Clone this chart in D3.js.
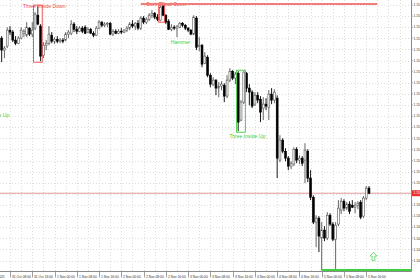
<!DOCTYPE html>
<html><head><meta charset="utf-8">
<script src="https://cdn.jsdelivr.net/npm/d3@7/dist/d3.min.js"></script>
<style>html,body{margin:0;padding:0;background:#fff;overflow:hidden}svg{display:block}</style>
</head><body><svg id="c" width="420" height="280"></svg>
<script>
// ---- DATA (hourly OHLC) ----
const openP=[1.15701,1.15647,1.15665,1.15737,1.15728,1.15692,1.15678,1.15701,1.15723,1.15714,
1.15746,1.15719,1.15746,1.15804,1.15755,1.15624,1.15669,1.15678,1.15714,1.15687,
1.15696,1.15687,1.15692,1.15692,1.15719,1.15723,1.15764,1.15741,1.15732,1.15746,
1.15750,1.15728,1.15741,1.15723,1.15714,1.15746,1.15773,1.15759,1.15764,1.15768,
1.15719,1.15732,1.15723,1.15732,1.15728,1.15737,1.15746,1.15764,1.15755,1.15768,
1.15746,1.15791,1.15773,1.15786,1.15804,1.15813,1.15795,1.15782,1.15845,1.15804,
1.15777,1.15741,1.15750,1.15746,1.15750,1.15768,1.15759,1.15746,1.15737,1.15719,
1.15791,1.15665,1.15669,1.15588,1.15615,1.15534,1.15494,1.15512,1.15476,1.15485,
1.15489,1.15440,1.15512,1.15552,1.15521,1.15543,1.15332,1.15413,1.15543,1.15476,
1.15458,1.15404,1.15444,1.15426,1.15386,1.15404,1.15390,1.15449,1.15422,1.15431,
1.15152,1.15242,1.15192,1.15161,1.15125,1.15134,1.15201,1.15152,1.15161,1.15152,
1.15192,1.15071,1.14985,1.14873,1.14891,1.14801,1.14837,1.14801,1.14904,1.14864,
1.14796,1.14864,1.14927,1.14967,1.14936,1.14954,1.14949,1.14940,1.14949,1.14963,
1.14900,1.14981,1.15026];
const highP=[1.15710,1.15665,1.15750,1.15755,1.15737,1.15710,1.15710,1.15750,1.15741,1.15773,
1.15750,1.15773,1.15818,1.15845,1.15764,1.15683,1.15692,1.15755,1.15728,1.15705,
1.15710,1.15701,1.15701,1.15728,1.15737,1.15782,1.15773,1.15755,1.15755,1.15755,
1.15759,1.15750,1.15746,1.15732,1.15755,1.15782,1.15777,1.15773,1.15773,1.15773,
1.15741,1.15741,1.15741,1.15746,1.15741,1.15755,1.15773,1.15782,1.15773,1.15782,
1.15800,1.15800,1.15795,1.15813,1.15827,1.15818,1.15809,1.15849,1.15854,1.15809,
1.15786,1.15764,1.15759,1.15759,1.15773,1.15773,1.15764,1.15750,1.15741,1.15804,
1.15800,1.15705,1.15674,1.15638,1.15624,1.15543,1.15525,1.15516,1.15503,1.15507,
1.15498,1.15534,1.15566,1.15557,1.15548,1.15552,1.15422,1.15552,1.15548,1.15494,
1.15467,1.15458,1.15458,1.15440,1.15435,1.15431,1.15467,1.15476,1.15471,1.15444,
1.15264,1.15251,1.15206,1.15170,1.15147,1.15210,1.15210,1.15174,1.15170,1.15228,
1.15201,1.15107,1.14994,1.14904,1.14900,1.14873,1.14855,1.14918,1.14913,1.14873,
1.14873,1.14972,1.14981,1.14976,1.14963,1.14967,1.14972,1.14963,1.14967,1.14972,
1.14990,1.15035,1.15035];
const lowP=[1.15593,1.15611,1.15656,1.15714,1.15683,1.15669,1.15674,1.15696,1.15705,1.15705,
1.15710,1.15705,1.15737,1.15759,1.15597,1.15611,1.15647,1.15669,1.15678,1.15674,
1.15678,1.15678,1.15678,1.15687,1.15701,1.15714,1.15728,1.15719,1.15728,1.15723,
1.15719,1.15723,1.15719,1.15705,1.15710,1.15741,1.15750,1.15750,1.15750,1.15714,
1.15710,1.15719,1.15719,1.15719,1.15723,1.15728,1.15737,1.15746,1.15737,1.15737,
1.15737,1.15764,1.15764,1.15777,1.15791,1.15786,1.15777,1.15777,1.15800,1.15764,
1.15737,1.15732,1.15737,1.15705,1.15746,1.15750,1.15737,1.15728,1.15714,1.15714,
1.15647,1.15642,1.15570,1.15584,1.15525,1.15480,1.15485,1.15444,1.15435,1.15467,
1.15413,1.15431,1.15503,1.15512,1.15494,1.15282,1.15327,1.15404,1.15458,1.15399,
1.15386,1.15395,1.15408,1.15323,1.15332,1.15377,1.15332,1.15404,1.15408,1.15071,
1.15143,1.15183,1.15147,1.15107,1.15111,1.15125,1.15138,1.15134,1.15125,1.15048,
1.15053,1.14972,1.14864,1.14760,1.14738,1.14657,1.14787,1.14792,1.14855,1.14787,
1.14657,1.14855,1.14909,1.14922,1.14927,1.14909,1.14936,1.14913,1.14931,1.14886,
1.14891,1.14972,1.14999];
const closeP=[1.15647,1.15656,1.15737,1.15728,1.15692,1.15678,1.15701,1.15737,1.15732,1.15750,
1.15719,1.15737,1.15809,1.15764,1.15620,1.15669,1.15678,1.15719,1.15687,1.15696,
1.15687,1.15692,1.15687,1.15719,1.15728,1.15764,1.15741,1.15732,1.15746,1.15732,
1.15723,1.15741,1.15723,1.15714,1.15746,1.15773,1.15759,1.15764,1.15768,1.15719,
1.15732,1.15723,1.15732,1.15728,1.15737,1.15746,1.15764,1.15755,1.15768,1.15746,
1.15791,1.15773,1.15786,1.15804,1.15813,1.15795,1.15786,1.15840,1.15804,1.15773,
1.15741,1.15750,1.15746,1.15755,1.15768,1.15759,1.15746,1.15737,1.15719,1.15795,
1.15660,1.15669,1.15584,1.15620,1.15534,1.15494,1.15512,1.15476,1.15485,1.15494,
1.15440,1.15512,1.15552,1.15521,1.15539,1.15323,1.15413,1.15548,1.15476,1.15458,
1.15395,1.15444,1.15422,1.15368,1.15404,1.15395,1.15449,1.15422,1.15458,1.15161,
1.15242,1.15192,1.15161,1.15125,1.15138,1.15201,1.15152,1.15161,1.15138,1.15197,
1.15071,1.14985,1.14873,1.14891,1.14810,1.14837,1.14801,1.14904,1.14864,1.14796,
1.14859,1.14936,1.14967,1.14936,1.14954,1.14922,1.14940,1.14949,1.14958,1.14895,
1.14981,1.15026,1.15003];

const firstDateLabel = "31 Oct 2025";
const timeLabels = ["31 Oct 08:00","31 Oct 16:00","1 Nov 00:00","1 Nov 08:00","1 Nov 16:00",
"2 Nov 00:00","2 Nov 08:00","2 Nov 16:00","3 Nov 00:00","3 Nov 08:00","3 Nov 16:00",
"4 Nov 00:00","4 Nov 08:00","4 Nov 16:00","5 Nov 00:00","5 Nov 08:00","5 Nov 16:00"];
const timeLabelBars = [3,11,19,27,35,43,51,59,67,75,83,91,99,107,115,123,131];

const priceTicks = [1.1585,1.1580,1.1575,1.1570,1.1565,1.1560,1.1555,1.1550,1.1545,1.1540,
1.1535,1.1530,1.1525,1.1520,1.1515,1.1510,1.1505,1.1500,1.1495,1.1490,1.1485,1.1480,1.1475,1.1470];

const patternNames = ["Three Inside Up","Three Inside Down","Dark Cloud Cover","Hammer","Three Inside Up"];
const patternStart = [-7,12,57,63,85];
const patternEnd   = [-5,14,58,63,87];
const patternDir   = ["bull","bear","bear","bull","bull"];
const patternBoxed = [true,true,true,false,true];
const offChartPatternLow = 1.15377;

const resistancePrice = 1.15854, resistanceFrom = 50, resistanceTo = 135;
const supportPrice = 1.14657, supportFrom = 115;
const signalArrowBar = 133.6, signalArrowPrice = 1.14700;

// ---- CHART ----
const W=420,H=280, PR=411, PB=271;
const N = closeP.length;
const svg = d3.select("#c");
const x = d3.scaleLinear().domain([0,1]).range([1.651,4.434]);
const y = d3.scaleLinear().domain([1.146575,1.158725]).range([270,0]);
const font = "'Liberation Sans', Arial, sans-serif";

svg.append("defs").append("clipPath").attr("id","plot")
  .append("rect").attr("x",0).attr("y",0).attr("width",PR).attr("height",PB);
const g = svg.append("g").attr("clip-path","url(#plot)");

// grid
const gridBars = d3.range(3,150,4);
g.selectAll("line.vg").data(gridBars).join("line")
  .attr("x1",d=>Math.round(x(d))+0.5).attr("x2",d=>Math.round(x(d))+0.5)
  .attr("y1",0).attr("y2",PB)
  .attr("stroke","#d4d4d4").attr("stroke-width",0.8).attr("stroke-dasharray","1,2");
g.selectAll("line.hg").data(priceTicks).join("line")
  .attr("x1",0).attr("x2",PR)
  .attr("y1",d=>Math.round(y(d))+0.5).attr("y2",d=>Math.round(y(d))+0.5)
  .attr("stroke","#d4d4d4").attr("stroke-width",0.8).attr("stroke-dasharray","1,2");

// current price line
const cur = closeP[N-1];
g.append("line").attr("x1",0).attr("x2",PR).attr("y1",y(cur)).attr("y2",y(cur))
  .attr("stroke","#e29a9a").attr("stroke-width",1);

// candles
const idx = d3.range(N);
const bull = i => closeP[i] <= openP[i] ? false : true;
g.selectAll("line.wick").data(idx).join("line")
  .attr("x1",i=>x(i)).attr("x2",i=>x(i))
  .attr("y1",i=>y(highP[i])).attr("y2",i=>y(lowP[i]))
  .attr("stroke",i=>bull(i)?"#555":"#000").attr("stroke-width",0.9);
g.selectAll("rect.body").data(idx).join("rect")
  .attr("x",i=>x(i)-0.95).attr("width",1.9)
  .attr("y",i=>y(Math.max(openP[i],closeP[i])))
  .attr("height",i=>Math.max(0.8,Math.abs(y(openP[i])-y(closeP[i]))))
  .attr("fill",i=>bull(i)?"#fff":"#000")
  .attr("stroke",i=>bull(i)?"#555":"#000").attr("stroke-width",0.6);

// pattern boxes + labels
const red="#f04848", green="#3ccf3c";
patternNames.forEach((name,k)=>{
  const s=patternStart[k], e=patternEnd[k];
  const col = patternDir[k]==="bull"?green:red;
  let hi, lo;
  if (s>=0) { hi=d3.max(highP.slice(s,e+1)); lo=d3.min(lowP.slice(s,e+1)); }
  else { hi=offChartPatternLow; lo=offChartPatternLow; }
  const top=y(hi)-1, bot=y(lo)+1;
  if (patternBoxed[k] && s>=0) {
    g.append("rect").attr("x",x(s)-1.6).attr("width",x(e)-x(s)+3.2)
      .attr("y",top).attr("height",bot-top)
      .attr("fill","none").attr("stroke",col).attr("stroke-width",0.9);
  }
  g.append("text").attr("x",x(e)+3.5)
    .attr("y",patternDir[k]==="bull"? bot+6 : top+2.5)
    .attr("text-anchor","middle").attr("font-family",font).attr("font-size",5.1)
    .attr("fill",col).text(name);
});

// resistance / support
g.append("line").attr("x1",x(resistanceFrom)).attr("x2",x(resistanceTo))
  .attr("y1",y(resistancePrice)).attr("y2",y(resistancePrice))
  .attr("stroke","#f27c7c").attr("stroke-width",2);
g.append("line").attr("x1",x(supportFrom)).attr("x2",PR)
  .attr("y1",y(supportPrice)).attr("y2",y(supportPrice))
  .attr("stroke","#3fd23f").attr("stroke-width",2);

// signal arrow
{
  const cx=x(signalArrowBar), b=y(signalArrowPrice), t=b-8.5;
  const p=`M${cx},${t} L${cx+3.4},${t+4} L${cx+1.4},${t+4} L${cx+1.4},${b} L${cx-1.4},${b} L${cx-1.4},${t+4} L${cx-3.4},${t+4} Z`;
  g.append("path").attr("d",p).attr("fill","#fff").attr("stroke","#66d866").attr("stroke-width",0.9);
}

// axes
svg.append("line").attr("x1",PR+0.5).attr("x2",PR+0.5).attr("y1",0).attr("y2",PB+0.5)
  .attr("stroke","#8a8a8a").attr("stroke-width",1);
svg.append("line").attr("x1",0).attr("x2",PR+0.5).attr("y1",PB+0.5).attr("y2",PB+0.5)
  .attr("stroke","#8a8a8a").attr("stroke-width",1);

const axFont=3.3;
svg.selectAll("text.pt").data(priceTicks).join("text")
  .attr("x",PR+2.5).attr("y",d=>y(d)+1.2)
  .attr("font-family",font).attr("font-size",axFont).attr("fill","#333")
  .text(d=>d.toFixed(5));
svg.selectAll("line.ptk").data(priceTicks).join("line")
  .attr("x1",PR+0.5).attr("x2",PR+2).attr("y1",d=>y(d)).attr("y2",d=>y(d))
  .attr("stroke","#8a8a8a").attr("stroke-width",0.6);

// current price tag
svg.append("rect").attr("x",PR+1).attr("y",y(cur)-3).attr("width",10).attr("height",6).attr("fill","#e8302c");
svg.append("text").attr("x",PR+2.5).attr("y",y(cur)+1.2)
  .attr("font-family",font).attr("font-size",axFont).attr("fill","#fff").text(cur.toFixed(5));

// time axis
svg.selectAll("line.tt").data(timeLabelBars).join("line")
  .attr("x1",d=>Math.round(x(d))+0.5).attr("x2",d=>Math.round(x(d))+0.5)
  .attr("y1",PB+1).attr("y2",PB+6.5).attr("stroke","#777").attr("stroke-width",0.7);
svg.selectAll("text.tl").data(timeLabelBars).join("text")
  .attr("x",d=>Math.round(x(d))+2).attr("y",PB+6.6)
  .attr("font-family",font).attr("font-size",axFont).attr("fill","#333")
  .text((d,i)=>timeLabels[i]);
svg.append("text").attr("x",x(0)+3).attr("y",PB+6.6).attr("text-anchor","end")
  .attr("font-family",font).attr("font-size",axFont).attr("fill","#333").text(firstDateLabel);
</script></body></html>
